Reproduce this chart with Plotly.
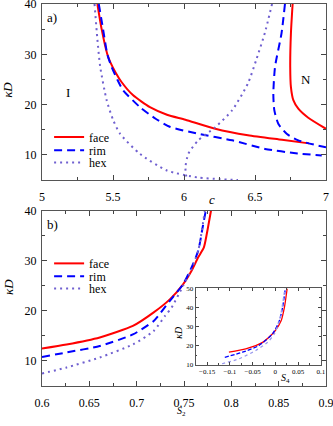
import plotly.graph_objects as go

# panel a): kappa*D against c, two branches per phase boundary
face_lo_c = [5.39, 5.42, 5.46, 5.48, 5.52, 5.56, 5.64, 5.76, 5.88, 6.01, 6.22, 6.45, 6.69, 6.88]
face_lo_k = [40.0, 35.0, 30.0, 28.5, 26.3, 24.5, 21.9, 19.5, 18.0, 17.0, 15.2, 13.9, 13.0, 12.3]
face_hi_c = [6.765, 6.753, 6.748, 6.753, 6.77, 6.805, 6.875, 7.0]
face_hi_k = [40.0, 34.2, 27.5, 23.5, 20.9, 19.2, 17.4, 15.2]

rim_lo_c = [5.40, 5.43, 5.46, 5.49, 5.53, 5.57, 5.69, 5.80, 5.90, 6.10, 6.34, 6.57, 6.80, 6.97]
rim_lo_k = [40.0, 35.0, 30.0, 27.5, 25.0, 22.9, 19.5, 17.2, 15.6, 14.2, 12.9, 11.2, 10.3, 9.9]
rim_hi_c = [6.711, 6.687, 6.641, 6.629, 6.636, 6.664, 6.723, 6.805, 7.0]
rim_hi_k = [40.0, 34.2, 27.5, 22.2, 18.9, 16.2, 14.2, 12.9, 11.5]

hex_lo_c = [5.37, 5.39, 5.41, 5.455, 5.50, 5.55, 5.69, 5.88, 6.10, 6.25, 6.38]
hex_lo_k = [40.0, 33.0, 27.5, 20.9, 17.0, 14.2, 10.2, 6.9, 5.5, 5.2, 5.0]
hex_hi_c = [6.62, 6.57, 6.51, 6.45, 6.34, 6.22, 6.10, 6.03, 6.01, 6.02]
hex_hi_k = [40.0, 34.3, 29.0, 24.2, 18.9, 15.5, 12.9, 10.2, 7.5, 5.0]

# panel b): kappa*D against S2
face_s2 = [0.6, 0.626, 0.661, 0.696, 0.718, 0.735, 0.749, 0.758, 0.765, 0.771, 0.774, 0.7785]
face_k2 = [12.5, 13.3, 14.7, 17.0, 19.7, 22.3, 25.3, 28.0, 30.7, 32.7, 35.3, 40.0]
rim_s2 = [0.6, 0.626, 0.661, 0.696, 0.718, 0.735, 0.749, 0.758, 0.765, 0.770, 0.773]
rim_k2 = [10.8, 11.7, 13.0, 15.3, 18.0, 22.0, 25.3, 28.7, 32.0, 37.0, 40.0]
hex_s2 = [0.6, 0.626, 0.661, 0.696, 0.718, 0.730, 0.737, 0.749, 0.758, 0.765, 0.772]
hex_k2 = [7.5, 8.7, 10.7, 13.3, 16.0, 19.0, 20.7, 25.0, 28.3, 32.0, 40.0]

# inset: kappa*D against S4
face_s4 = [-0.102, -0.065, -0.028, -0.01, 0.0, 0.0127, 0.02, 0.026]
face_k4 = [16.5, 18.3, 21.7, 25.3, 27.9, 33.0, 40.2, 50.0]
rim_s4 = [-0.111, -0.072, -0.036, -0.006, 0.009, 0.016, 0.022]
rim_k4 = [13.8, 16.5, 20.0, 26.2, 33.2, 40.2, 50.0]
hex_s4 = [-0.117, -0.08, -0.043, -0.017, -0.002, 0.009, 0.016, 0.021]
hex_k4 = [10.4, 13.0, 17.4, 21.7, 26.2, 33.0, 42.0, 50.0]

RED = "#ff0000"
BLUE = "#0000ff"
PURPLE = "#7060d0"
SERIF = "Liberation Serif"

styles = {
    "face": {"color": RED, "width": 2},
    "rim": {"color": BLUE, "width": 2, "dash": "8px,5px"},
    "hex": {"color": PURPLE, "width": 2, "dash": "2px,4px"},
}

# one legend per entry so the rows can sit as tightly as in the original
legend_rows = {
    "a": {"face": ("legend", 0.652), "rim": ("legend2", 0.617), "hex": ("legend3", 0.585)},
    "b": {"face": ("legend4", 0.321), "rim": ("legend5", 0.287), "hex": ("legend6", 0.255)},
}

fig = go.Figure()

panel_a = [
    ("face", face_lo_c, face_lo_k, True),
    ("face", face_hi_c, face_hi_k, False),
    ("rim", rim_lo_c, rim_lo_k, True),
    ("rim", rim_hi_c, rim_hi_k, False),
    ("hex", hex_lo_c, hex_lo_k, True),
    ("hex", hex_hi_c, hex_hi_k, False),
]
for name, xs, ys, show in panel_a:
    fig.add_trace(go.Scatter(
        x=xs, y=ys, mode="lines", name=name, showlegend=show,
        legend=legend_rows["a"][name][0],
        line=dict(styles[name], shape="spline", smoothing=0.6),
        xaxis="x", yaxis="y",
    ))

for name, xs, ys in [("face", face_s2, face_k2), ("rim", rim_s2, rim_k2), ("hex", hex_s2, hex_k2)]:
    fig.add_trace(go.Scatter(
        x=xs, y=ys, mode="lines", name=name, legend=legend_rows["b"][name][0],
        line=dict(styles[name], shape="spline", smoothing=0.6),
        xaxis="x2", yaxis="y2",
    ))

inset_styles = {
    "face": {"color": RED, "width": 1.3},
    "rim": {"color": BLUE, "width": 1.3, "dash": "4px,2px"},
    "hex": {"color": "#9a9aee", "width": 1.3, "dash": "dot"},
}
for name, xs, ys in [("face", face_s4, face_k4), ("rim", rim_s4, rim_k4), ("hex", hex_s4, hex_k4)]:
    fig.add_trace(go.Scatter(
        x=xs, y=ys, mode="lines", name=name, showlegend=False,
        line=dict(inset_styles[name], shape="spline", smoothing=0.6),
        xaxis="x3", yaxis="y3",
    ))


def axis(domain, rng, dtick, minor, anchor, size=12, ticklen=5, standoff=0):
    return dict(
        domain=domain, range=rng, dtick=dtick, anchor=anchor, automargin=False,
        ticks="inside", ticklen=ticklen, tickcolor="#444", mirror="ticks",
        showline=True, linecolor="#555", linewidth=1, showgrid=False, zeroline=False,
        minor=dict(ticks="inside", dtick=minor, ticklen=ticklen * 0.6, tickcolor="#444"),
        tickfont=dict(family=SERIF, size=size, color="black"), tickangle=0,
        ticklabelstandoff=standoff, ticklabeloverflow="allow",
    )


top = [0.539, 1.0]
bottom = [0.0, 0.4587]
fig.update_layout(
    xaxis=axis([0, 1], [5, 7], 0.5, 0.25, "y", standoff=5),
    yaxis=axis(top, [5, 40], 10, 5, "x", standoff=2),
    xaxis2=axis([0, 1], [0.6, 0.9], 0.05, 0.025, "y2", standoff=6),
    yaxis2=axis(bottom, [5, 40], 10, 5, "x2", standoff=2),
    xaxis3=axis([0.541, 0.982], [-0.175, 0.1], 0.05, 0.025, "y3", size=7, ticklen=3),
    yaxis3=axis([0.0561, 0.2553], [10, 50], 10, 5, "x3", size=7, ticklen=3),
)

legend_style = dict(
    bgcolor="rgba(0,0,0,0)", font=dict(family=SERIF, size=12, color="black"),
    xanchor="left", yanchor="middle", itemwidth=30, x=0.025,
)
for panel in legend_rows.values():
    for key, ypos in panel.values():
        fig.update_layout({key: dict(legend_style, y=ypos)})

label_font = dict(family=SERIF, size=13, color="black")
notes = [
    ("x", "y", 5.07, 37.3, "a)", 0),
    ("x", "y", 5.18, 22.5, "I", 0),
    ("x", "y", 6.86, 24.9, "N", 0),
    ("x2", "y2", 0.611, 37.3, "b)", 0),
    ("paper", "paper", 0.599, 0.487, "<i>c</i>", 0),
    ("paper", "paper", 0.492, -0.068, "<i>S</i><sub>2</sub>", 0),
    ("paper", "paper", -0.12, 0.775, "<i>κD</i>", -90),
    ("paper", "paper", -0.12, 0.259, "<i>κD</i>", -90),
    ("paper", "paper", 0.856, 0.02, "<i>S</i><sub>4</sub>", 0),
    ("paper", "paper", 0.482, 0.1415, "<i>κD</i>", -90),
]
for xref, yref, x, y, text, angle in notes:
    small = xref == "paper" and x > 0.4 and y < 0.2
    fig.add_annotation(
        xref=xref, yref=yref, x=x, y=y, text=text, showarrow=False, textangle=angle,
        xanchor="center", yanchor="middle",
        font=dict(label_font, size=10 if small else 13),
    )

fig.update_layout(
    width=333, height=426,
    margin=dict(l=42, r=7, t=4, b=40),
    paper_bgcolor="white", plot_bgcolor="white",
)
# the page body has a default 8px margin; drop it so the figure fills the window
fig.write_html(
    "out.html",
    config={"displayModeBar": False},
    post_script="document.body.style.margin = '0';",
)
